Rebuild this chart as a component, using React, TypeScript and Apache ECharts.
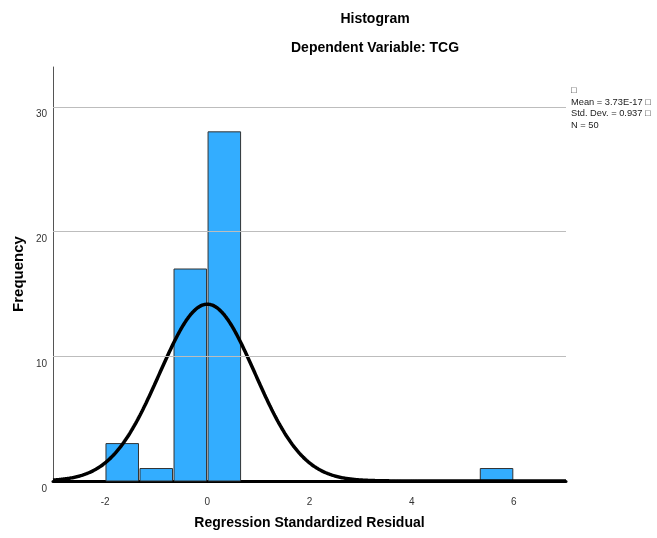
import React, { useEffect, useRef } from "react";
import * as echarts from "echarts";

// ---- data ----
const BIN_STARTS = [-1.998, -1.332, -0.666, 0, 5.328];
const BIN_WIDTH = 0.666;
const COUNTS = [3, 1, 17, 28, 1];
const X_TICKS = [-2, 0, 2, 4, 6];
const Y_TICKS = [0, 10, 20, 30];
const GRID_VALUES = [10, 20, 30];
const X_MIN = -3.02;
const X_MAX = 7.02;
const Y_MAX = 33.2;
const MEAN = 3.73e-17;
const SD = 0.937;
const N = 50;
const TITLE = "Histogram";
const SUBTITLE = "Dependent Variable: TCG";
const X_NAME = "Regression Standardized Residual";
const Y_NAME = "Frequency";
const LEGEND_LINES = ["\u25A1", "Mean = 3.73E-17 \u25A1", "Std. Dev. = 0.937 \u25A1", "N = 50"];

const FONT = '"Liberation Sans", Arial, sans-serif';

export default function App() {
  const ref = useRef<HTMLDivElement>(null);
  useEffect(() => {
    if (!ref.current) return;
    const chart = echarts.init(ref.current, undefined, { renderer: "svg" });

    const bars = BIN_STARTS.map((s, i) => [s, s + BIN_WIDTH, COUNTS[i]]);
    const curve: number[][] = [];
    const steps = Math.round((X_MAX - X_MIN) / 0.02);
    for (let i = 0; i <= steps; i++) {
      const x = X_MIN + i * 0.02;
      const z = (x - MEAN) / SD;
      const y = (N * BIN_WIDTH * Math.exp(-0.5 * z * z)) / (SD * Math.sqrt(2 * Math.PI));
      curve.push([x, y]);
    }

    chart.setOption({
      animation: false,
      textStyle: { fontFamily: FONT },
      grid: { left: 53, right: 91, top: 67, bottom: 57, containLabel: false },
      xAxis: {
        type: "value",
        min: X_MIN,
        max: X_MAX,
        name: X_NAME,
        nameLocation: "middle",
        nameGap: 34,
        nameTextStyle: { fontFamily: FONT, fontWeight: "bold", fontSize: 14, color: "#000" },
        axisLine: { show: true, onZero: false, lineStyle: { color: "#000", width: 3 } },
        axisTick: { show: false },
        splitLine: { show: false },
        axisLabel: {
          customValues: X_TICKS,
          margin: 15,
          fontSize: 10,
          color: "#333",
          fontFamily: FONT,
        },
      },
      yAxis: {
        type: "value",
        min: 0,
        max: Y_MAX,
        name: Y_NAME,
        nameLocation: "middle",
        nameGap: 28,
        nameTextStyle: { fontFamily: FONT, fontWeight: "bold", fontSize: 15, color: "#000" },
        axisLine: { show: true, onZero: false, lineStyle: { color: "#555", width: 1 } },
        axisTick: { show: false },
        splitLine: { show: false },
        axisLabel: {
          customValues: Y_TICKS,
          margin: 6,
          fontSize: 10,
          color: "#333",
          fontFamily: FONT,
          verticalAlign: "top",
          lineHeight: 12,
          padding: [1, 0, 0, 0],
        },
      },
      graphic: [
        {
          type: "text",
          x: 375,
          y: 18,
          style: { text: TITLE, textAlign: "center", textVerticalAlign: "middle", font: `bold 14px ${FONT}`, fill: "#000" },
        },
        {
          type: "text",
          x: 375,
          y: 47,
          style: { text: SUBTITLE, textAlign: "center", textVerticalAlign: "middle", font: `bold 14px ${FONT}`, fill: "#000" },
        },
        ...LEGEND_LINES.map((t, i) => ({
          type: "text",
          x: 571,
          y: 90 + i * 11.7,
          style: { text: t, textAlign: "left", textVerticalAlign: "middle", font: `9.3px ${FONT}`, fill: "#222" },
        })),
      ],
      series: [
        {
          type: "line",
          data: [],
          z: 1,
          silent: true,
          markLine: {
            silent: true,
            symbol: "none",
            label: { show: false },
            lineStyle: { color: "#bdbdbd", width: 1, type: "solid" },
            data: GRID_VALUES.map((v) => ({ yAxis: v })),
          },
        },
        {
          type: "custom",
          z: 2,
          data: bars,
          renderItem: (params: any, api: any) => {
            const x0 = api.value(0);
            const x1 = api.value(1);
            const h = api.value(2);
            const p0 = api.coord([x0, h]);
            const p1 = api.coord([x1, 0]);
            return {
              type: "rect",
              shape: { x: p0[0] + 0.75, y: p0[1], width: p1[0] - p0[0] - 1.5, height: p1[1] - p0[1] },
              style: { fill: "#33adff", stroke: "#333", lineWidth: 1 },
            };
          },
        },
        {
          type: "line",
          z: 3,
          data: curve,
          showSymbol: false,
          smooth: false,
          lineStyle: { color: "#000", width: 3.5 },
        },
      ],
    });
    return () => chart.dispose();
  }, []);
  return <div ref={ref} style={{ position: "fixed", left: 0, top: 0, width: 657, height: 538 }} />;
}
